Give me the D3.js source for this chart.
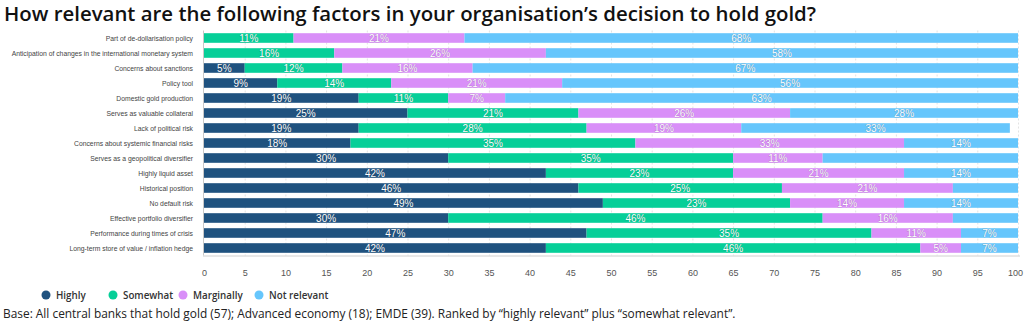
<!DOCTYPE html>
<html>
<head>
<meta charset="utf-8">
<script src="https://cdn.jsdelivr.net/npm/d3@7"></script>
<style>
  body { margin: 0; background: #fff; }
  svg { display: block; }
</style>
</head>
<body>
<script>
var categories = [
  "Part of de-dollarisation policy",
  "Anticipation of changes in the international monetary system",
  "Concerns about sanctions",
  "Policy tool",
  "Domestic gold production",
  "Serves as valuable collateral",
  "Lack of political risk",
  "Concerns about systemic financial risks",
  "Serves as a geopolitical diversifier",
  "Highly liquid asset",
  "Historical position",
  "No default risk",
  "Effective portfolio diversifier",
  "Performance during times of crisis",
  "Long-term store of value / inflation hedge"
];

var seriesNames = ["Highly", "Somewhat", "Marginally", "Not relevant"];

var highly      = [0, 0, 5, 9, 19, 25, 19, 18, 30, 42, 46, 49, 30, 47, 42];
var somewhat    = [11, 16, 12, 14, 11, 21, 28, 35, 35, 23, 25, 23, 46, 35, 46];
var marginally  = [21, 26, 16, 21, 7, 26, 19, 33, 11, 21, 21, 14, 16, 11, 5];
var notRelevant = [68, 58, 67, 56, 63, 28, 33, 14, 24, 14, 8, 14, 8, 7, 7];

// segments that carry no value label: [row, series]
var unlabelled = [
  [8, 3], [10, 3], [12, 3]
];

var xTicks = [0, 5, 10, 15, 20, 25, 30, 35, 40, 45, 50, 55, 60, 65, 70, 75, 80, 85, 90, 95, 100];

var colors = ["#1f527f", "#06cf98", "#d98ff8", "#66c6fc"];

var width = 1024, height = 325;
var plotLeft = 204, plotRight = 1018, plotTop = 30.5, plotBottom = 255.5;

var svg = d3.select("body").append("svg")
  .attr("width", width)
  .attr("height", height);

svg.append("text")
  .attr("x", 4)
  .attr("y", 21)
  .attr("font-family", "Open Sans")
  .attr("font-weight", 600)
  .attr("font-size", 20.4)
  .attr("fill", "#111")
  .text("How relevant are the following factors in your organisation\u2019s decision to hold gold?");

var x = d3.scaleLinear().domain([0, 100]).range([plotLeft, plotRight]);
var y = d3.scaleBand().domain(categories).range([plotTop, plotBottom]).paddingInner(0.36).paddingOuter(0.18);

// vertical grid
svg.append("g")
  .selectAll("line")
  .data(xTicks.slice(1))
  .enter()
  .append("line")
  .attr("x1", function(d) { return x(d) + 0.5; })
  .attr("x2", function(d) { return x(d) + 0.5; })
  .attr("y1", plotTop)
  .attr("y2", plotBottom)
  .attr("stroke", "#e3e3e3")
  .attr("stroke-dasharray", "2,2");

// stack the four series per row
var rows = categories.map(function(c, i) {
  return { cat: c, Highly: highly[i], Somewhat: somewhat[i], Marginally: marginally[i], "Not relevant": notRelevant[i] };
});
var stacked = d3.stack().keys(seriesNames)(rows);

var layers = svg.append("g")
  .selectAll("g")
  .data(stacked)
  .enter()
  .append("g")
  .attr("fill", function(d, i) { return colors[i]; });

layers.selectAll("rect")
  .data(function(d) { return d.filter(function(p) { return p[1] - p[0] > 0; }); })
  .enter()
  .append("rect")
  .attr("x", function(d) { return x(d[0]); })
  .attr("y", function(d) { return y(d.data.cat); })
  .attr("width", function(d) { return x(d[1]) - x(d[0]); })
  .attr("height", y.bandwidth());

function isUnlabelled(row, s) {
  return unlabelled.some(function(u) { return u[0] === row && u[1] === s; });
}

// value labels
var labelG = svg.append("g");
stacked.forEach(function(layer, s) {
  layer.forEach(function(d, row) {
    var v = d[1] - d[0];
    if (v <= 0 || isUnlabelled(row, s)) return;
    labelG.append("text")
      .attr("x", x((d[0] + d[1]) / 2))
      .attr("y", y(d.data.cat) + y.bandwidth() / 2 + 4)
      .attr("text-anchor", "middle")
      .attr("font-family", "Liberation Sans, Arial, sans-serif")
      .attr("font-size", 10)
      .attr("fill", "#fff")
      .attr("stroke", "rgba(0,0,0,0.25)")
      .attr("stroke-width", 0.6)
      .attr("paint-order", "stroke")
      .text(v + "%");
  });
});

// plot frame lines
svg.append("line")
  .attr("x1", plotLeft - 0.5).attr("x2", plotLeft - 0.5)
  .attr("y1", plotTop).attr("y2", plotBottom)
  .attr("stroke", "#c8c8c8");
svg.append("line")
  .attr("x1", plotLeft - 1).attr("x2", plotRight + 2)
  .attr("y1", plotBottom + 0.5).attr("y2", plotBottom + 0.5)
  .attr("stroke", "#d0d0d0");

// category labels
svg.append("g")
  .selectAll("text")
  .data(categories)
  .enter()
  .append("text")
  .attr("x", 193)
  .attr("y", function(d) { return y(d) + y.bandwidth() / 2 + 2.5; })
  .attr("text-anchor", "end")
  .attr("font-family", "Liberation Sans, Arial, sans-serif")
  .attr("font-size", 6.8)
  .attr("fill", "#444")
  .text(function(d) { return d; });

// x axis
var xAxis = svg.append("g")
  .attr("transform", "translate(0," + (plotBottom + 6) + ")")
  .call(d3.axisBottom(x).tickValues(xTicks).tickSize(0).tickPadding(8));
xAxis.select(".domain").remove();
xAxis.selectAll("text")
  .attr("font-family", "Liberation Sans, Arial, sans-serif")
  .attr("font-size", 9)
  .attr("fill", "#555");
// keep the last tick label inside the page
xAxis.selectAll(".tick")
  .filter(function(d) { return d === 100; })
  .select("text")
  .attr("dx", -3);

// legend
var legendX = [46, 113, 183, 259];
var legend = svg.append("g")
  .selectAll("g")
  .data(seriesNames)
  .enter()
  .append("g")
  .attr("transform", function(d, i) { return "translate(" + legendX[i] + ",295)"; });
legend.append("circle")
  .attr("r", 4.5)
  .attr("fill", function(d, i) { return colors[i]; });
legend.append("text")
  .attr("x", 10)
  .attr("y", 3.5)
  .attr("font-family", "Open Sans")
  .attr("font-weight", 600)
  .attr("font-size", 9.8)
  .attr("fill", "#333")
  .text(function(d) { return d; });

svg.append("text")
  .attr("x", 3)
  .attr("y", 318)
  .attr("font-family", "Open Sans")
  .attr("font-size", 11.9)
  .attr("fill", "#222")
  .text("Base: All central banks that hold gold (57); Advanced economy (18); EMDE (39). Ranked by \u201chighly relevant\u201d plus \u201csomewhat relevant\u201d.");
</script>
</body>
</html>
